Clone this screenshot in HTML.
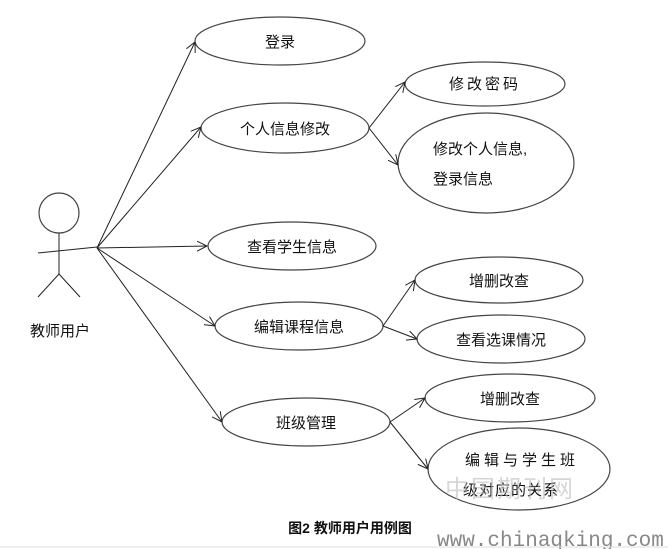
<!DOCTYPE html>
<html><head><meta charset="utf-8"><style>
body{margin:0;background:#fff;width:668px;height:549px;overflow:hidden}
svg{display:block}
text{font-family:"Liberation Sans","Noto Sans CJK SC",sans-serif;fill:#111}
</style></head><body>
<svg width="668" height="549" viewBox="0 0 668 549">
<defs><marker id="a" markerWidth="12" markerHeight="12" refX="10" refY="5" orient="auto" markerUnits="userSpaceOnUse"><path d="M0,0 L10,5 L0,10" fill="none" stroke="#222" stroke-width="1"/></marker></defs>
<g fill="#fff" stroke="#444" stroke-width="1.2">
<ellipse cx="280" cy="41" rx="85" ry="24"/>
<ellipse cx="285" cy="128" rx="84" ry="25"/>
<ellipse cx="485" cy="84" rx="80" ry="22"/>
<ellipse cx="486" cy="163" rx="88" ry="50"/>
<ellipse cx="292" cy="246" rx="84" ry="24"/>
<ellipse cx="299" cy="326" rx="84" ry="24"/>
<ellipse cx="499" cy="280" rx="84" ry="23"/>
<ellipse cx="501" cy="339" rx="84" ry="24"/>
<ellipse cx="306" cy="422" rx="84" ry="24"/>
<ellipse cx="510" cy="398" rx="85" ry="24"/>
<ellipse cx="519" cy="469" rx="91" ry="41"/>
<circle cx="59" cy="213" r="20"/>
</g>
<g stroke="#222" stroke-width="1" fill="none">
<line x1="59" y1="233" x2="59" y2="274"/>
<line x1="38" y1="253" x2="97" y2="247"/>
<line x1="59" y1="274" x2="38" y2="297"/>
<line x1="59" y1="274" x2="80" y2="297"/>
<line x1="97" y1="248" x2="195" y2="42" marker-end="url(#a)"/>
<line x1="97" y1="248" x2="201" y2="127" marker-end="url(#a)"/>
<line x1="97" y1="248" x2="207" y2="246" marker-end="url(#a)"/>
<line x1="97" y1="248" x2="215" y2="326" marker-end="url(#a)"/>
<line x1="97" y1="248" x2="222" y2="422" marker-end="url(#a)"/>
<line x1="369" y1="128" x2="405" y2="82" marker-end="url(#a)"/>
<line x1="369" y1="128" x2="398" y2="165" marker-end="url(#a)"/>
<line x1="383" y1="326" x2="415" y2="280" marker-end="url(#a)"/>
<line x1="383" y1="326" x2="417" y2="339" marker-end="url(#a)"/>
<line x1="390" y1="422" x2="425" y2="398" marker-end="url(#a)"/>
<line x1="390" y1="422" x2="428" y2="469" marker-end="url(#a)"/>
</g>
<g font-size="15" text-anchor="middle">
<text x="280" y="47">登录</text>
<text x="285" y="134">个人信息修改</text>
<text x="485" y="89" letter-spacing="3">修改密码</text>
<text x="299" y="332">编辑课程信息</text>
<text x="292" y="252">查看学生信息</text>
<text x="499" y="286">增删改查</text>
<text x="501" y="345">查看选课情况</text>
<text x="306" y="428">班级管理</text>
<text x="510" y="404">增删改查</text>
<text x="60" y="336">教师用户</text>
</g>
<g font-size="15">
<text x="433" y="154">修改个人信息,</text>
<text x="433" y="184">登录信息</text>
<text x="465" y="465" letter-spacing="4">编辑与学生班</text>
<text x="463" y="495" letter-spacing="1">级对应的关系</text>
</g>
<text x="350" y="533" font-size="14" font-weight="bold" text-anchor="middle">图2  教师用户用例图</text>
<text x="437" y="546" style="fill:#888;font-family:'Liberation Mono',monospace;font-size:21px">www.chinaqking.com</text>
<text x="445" y="497" font-size="24" style="fill:#bbb;opacity:.6" letter-spacing="2">中国期刊网</text>
<line x1="0" y1="547" x2="668" y2="547" stroke="#ddd"/>
</svg>
</body></html>
